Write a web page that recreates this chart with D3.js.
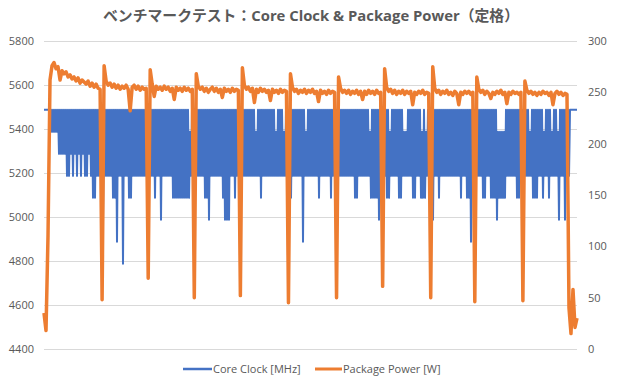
<!DOCTYPE html>
<html><head><meta charset="utf-8">
<script src="https://cdn.jsdelivr.net/npm/d3@7"></script>
<style>
body{margin:0;background:#fff;}
text{font-family:"Open Sans","Noto Sans CJK JP",sans-serif;}
</style>
</head><body>
<svg id="chart" width="620" height="380"></svg>
<script>
const chartTitle = "ベンチマークテスト：Core Clock & Package Power（定格）";
const seriesNames = ["Core Clock [MHz]", "Package Power [W]"];
const seriesColors = ["#4472C4", "#ED7D31"];
const clockTicks = [4400, 4600, 4800, 5000, 5200, 5400, 5600, 5800];
const powerTicks = [0, 50, 100, 150, 200, 250, 300];

// Core Clock [MHz], one sample per time step
const coreClock = [
5487,5487,5487,5487,5487,5487,5487,5387,5487,5387,5487,5387,5487,5387,5487,5287,5487,5287,5487,5287,
5487,5287,5487,5187,5487,5187,5487,5287,5487,5187,5487,5287,5487,5187,5487,5287,5487,5187,5487,5287,
5487,5187,5487,5187,5487,5287,5487,5187,5487,5087,5487,5087,5487,5187,5487,5187,5487,5187,5487,4987,
5487,5187,5487,5187,5487,5187,5487,5187,5487,5087,5487,5087,5487,4887,5487,5187,5487,5187,5487,4788,
5487,5187,5487,5187,5487,5087,5487,5087,5487,5187,5487,5187,5487,5187,5487,5187,5487,5187,5487,5187,
5487,5187,5487,5187,5487,5187,5487,5187,5487,5187,5487,5087,5487,5187,5487,5187,5487,4987,5487,5187,
5487,5187,5487,5187,5487,5187,5487,5187,5487,5087,5487,5087,5487,5087,5487,5087,5487,5087,5487,5087,
5487,5087,5487,5087,5487,5087,5387,5187,5487,5187,5487,5187,5487,5187,5487,5187,5487,5187,5487,5187,
5487,5087,5487,5087,5487,4987,5487,5187,5487,5187,5487,5187,5487,5187,5487,5187,5487,5187,5487,5087,
5487,4987,5487,4987,5487,4987,5487,5187,5487,5187,5487,5087,5487,5187,5487,5187,5487,5187,5487,5187,
5487,5187,5487,5187,5487,5187,5487,5187,5487,5187,5487,5187,5387,5187,5487,5187,5487,5087,5487,5187,
5487,5187,5487,5187,5487,5187,5487,5187,5487,5187,5487,5187,5387,5187,5487,5187,5487,5187,5487,5187,
5387,5187,5487,5187,5487,5187,5487,5087,5487,5187,5487,5187,5487,5187,5487,5187,5487,5187,5487,4887,
5487,5187,5387,5187,5487,5187,5487,5187,5487,5187,5487,5187,5487,5187,5487,5087,5487,5187,5487,5187,
5487,5187,5487,5187,5487,5187,5487,5087,5487,5187,5487,5187,5487,5187,5487,5187,5487,5187,5487,5187,
5487,5187,5487,5187,5487,5187,5487,5187,5487,5187,5487,5087,5487,5087,5487,5187,5487,5187,5487,5187,
5487,5187,5487,5187,5487,5187,5387,5087,5487,5087,5487,5087,5487,5087,5487,4987,5487,5187,5487,5187,
5487,5187,5487,5087,5487,5087,5387,5187,5487,5187,5487,5187,5487,5187,5487,5087,5487,5087,5487,5187,
5387,5187,5387,5187,5487,5187,5487,5187,5487,5087,5487,5087,5487,5187,5487,5187,5487,5087,5387,5087,
5487,5087,5387,5187,5487,5187,5487,5187,5487,4987,5487,5187,5487,5187,5487,5087,5487,5187,5487,5187,
5487,5187,5487,5187,5487,5187,5487,5187,5487,5187,5487,5187,5487,5187,5487,5187,5487,5087,5487,5187,
5487,5187,5487,5087,5487,5087,5487,4887,5487,5187,5487,5187,5487,5187,5487,5187,5487,5187,5487,5087,
5487,5087,5487,5187,5487,5187,5487,5087,5487,5087,5487,5087,5487,4987,5387,5087,5387,5087,5387,5087,
5387,5087,5487,5187,5487,5187,5487,5187,5487,5187,5487,5187,5487,5087,5487,5087,5487,5187,5487,5187,
5487,5187,5487,5187,5487,5187,5387,5187,5487,5087,5487,5087,5487,5087,5487,5187,5487,5187,5487,5087,
5387,5187,5487,5187,5487,5087,5487,5187,5387,5187,5487,5187,5487,5187,5387,4987,5487,5187,5487,5187,
5487,4987,5487,5187,5487,5187,5487,5487,5487,5487,5487,5487,5487,5487
];

// Package Power [W], one sample per two clock samples
const packagePower = [
35,18,110,262,276,279,273,275,262,271,
268,270,265,267,263,265,261,264,259,262,
260,258,261,256,259,255,258,254,253,48,
276,261,257,259,255,258,254,257,253,256,
254,257,253,232,255,257,253,256,252,255,
253,254,69,272,258,246,256,253,255,252,
256,253,255,251,254,243,255,252,254,251,
255,252,254,251,253,50,268,256,253,255,
251,254,250,253,255,251,254,250,253,245,
254,251,253,250,254,251,253,252,52,274,
257,253,255,251,254,240,253,250,254,251,
253,250,252,242,253,250,252,249,253,250,
252,251,45,268,255,251,253,249,252,250,
253,249,252,250,253,249,251,241,252,249,
251,248,252,249,251,250,50,265,254,250,
252,249,252,248,251,249,252,248,251,243,
251,248,252,249,251,248,252,249,250,61,
273,255,251,253,249,252,248,251,249,252,
248,251,249,251,238,250,248,251,249,252,
248,250,249,50,275,254,250,252,248,251,
249,252,248,250,247,251,249,238,250,248,
251,249,251,248,250,46,265,253,250,252,
248,251,249,244,250,248,251,249,252,248,
250,239,250,248,251,249,250,248,250,47,
261,252,249,251,248,250,247,250,248,251,
249,250,247,250,238,249,251,248,250,247,
249,248,40,15,58,21,30
];

const svg = d3.select("#chart");
const plot = {left: 44, right: 577, top: 41, bottom: 349};

const yL = d3.scaleLinear().domain([4400, 5800]).range([plot.bottom, plot.top]);
const yR = d3.scaleLinear().domain([0, 300]).range([plot.bottom, plot.top]);
const xClock = d3.scaleLinear().domain([0, coreClock.length - 1]).range([plot.left, plot.right]);
const xPower = d3.scaleLinear().domain([0, packagePower.length - 1]).range([plot.left, plot.right]);

// title
svg.append("text")
  .attr("x", 311).attr("y", 21)
  .attr("text-anchor", "middle")
  .attr("font-size", 15).attr("font-weight", "bold")
  .attr("fill", "#595959")
  .attr("textLength", 416).attr("lengthAdjust", "spacingAndGlyphs")
  .text(chartTitle);

// left axis with gridlines
const gL = svg.append("g").attr("transform", `translate(${plot.left},0)`)
  .call(d3.axisLeft(yL).tickValues(clockTicks).tickSizeInner(-(plot.right - plot.left)).tickSizeOuter(0).tickPadding(10).tickFormat(d3.format("d")));
gL.select(".domain").remove();
gL.selectAll(".tick line").attr("stroke", "#d9d9d9").attr("stroke-width", 1);
gL.selectAll(".tick text").attr("fill", "#595959").attr("font-size", 11);

// right axis
const gR = svg.append("g").attr("transform", `translate(${plot.right},0)`)
  .call(d3.axisRight(yR).tickValues(powerTicks).tickSize(0).tickPadding(11).tickFormat(d3.format("d")));
gR.select(".domain").remove();
gR.selectAll(".tick text").attr("fill", "#595959").attr("font-size", 11);

// series
svg.append("path")
  .datum(coreClock)
  .attr("fill", "none")
  .attr("stroke", seriesColors[0])
  .attr("stroke-width", 2)
  .attr("stroke-linejoin", "round")
  .attr("d", d3.line().x((d, i) => xClock(i)).y(d => yL(d)));

svg.append("path")
  .datum(packagePower)
  .attr("fill", "none")
  .attr("stroke", seriesColors[1])
  .attr("stroke-width", 3.5)
  .attr("stroke-linejoin", "round")
  .attr("d", d3.line().x((d, i) => xPower(i)).y(d => yR(d)));

// legend
const legendItems = [
  {name: seriesNames[0], color: seriesColors[0], x1: 183, x2: 212, w: 2.5},
  {name: seriesNames[1], color: seriesColors[1], x1: 315, x2: 342, w: 3}
];
const lg = svg.append("g");
legendItems.forEach(it => {
  lg.append("line").attr("x1", it.x1).attr("x2", it.x2).attr("y1", 369).attr("y2", 369)
    .attr("stroke", it.color).attr("stroke-width", it.w);
  lg.append("text").attr("x", it.x2 + 1).attr("y", 373)
    .attr("font-size", 11).attr("fill", "#595959").text(it.name);
});
</script>
</body></html>
